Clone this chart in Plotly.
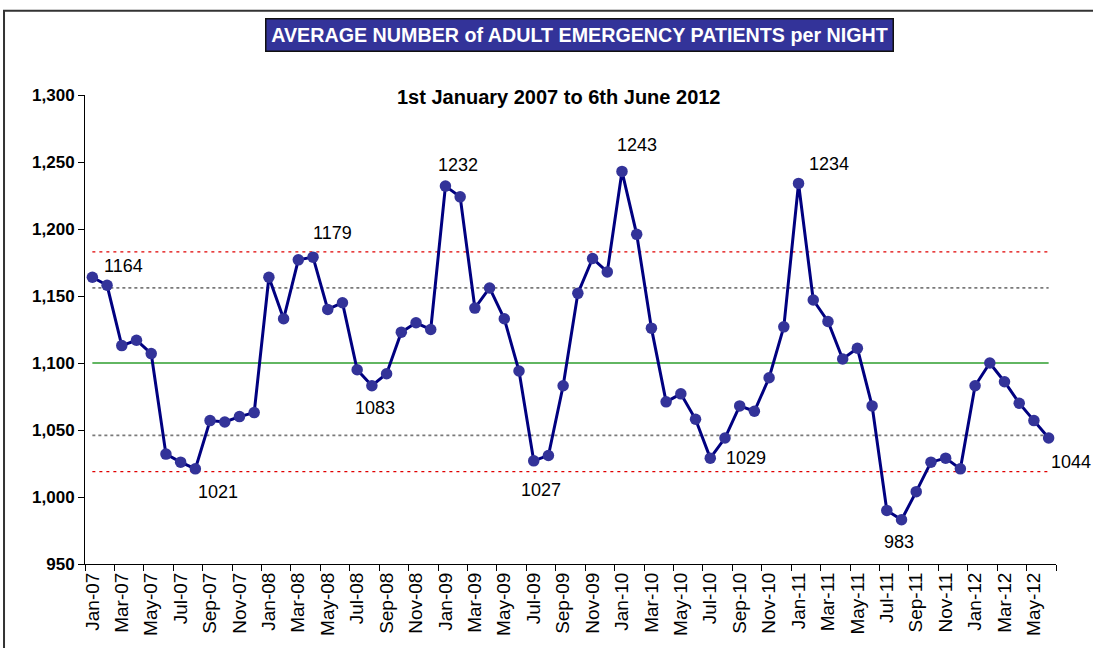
import plotly.graph_objects as go

months = ["Jan-07","Feb-07","Mar-07","Apr-07","May-07","Jun-07","Jul-07","Aug-07","Sep-07","Oct-07","Nov-07","Dec-07",
          "Jan-08","Feb-08","Mar-08","Apr-08","May-08","Jun-08","Jul-08","Aug-08","Sep-08","Oct-08","Nov-08","Dec-08",
          "Jan-09","Feb-09","Mar-09","Apr-09","May-09","Jun-09","Jul-09","Aug-09","Sep-09","Oct-09","Nov-09","Dec-09",
          "Jan-10","Feb-10","Mar-10","Apr-10","May-10","Jun-10","Jul-10","Aug-10","Sep-10","Oct-10","Nov-10","Dec-10",
          "Jan-11","Feb-11","Mar-11","Apr-11","May-11","Jun-11","Jul-11","Aug-11","Sep-11","Oct-11","Nov-11","Dec-11",
          "Jan-12","Feb-12","Mar-12","Apr-12","May-12","Jun-12"]

patients = [1164, 1158, 1113, 1117, 1107, 1032, 1026, 1021, 1057, 1056, 1060, 1063,
            1164, 1133, 1177, 1179, 1140, 1145, 1095, 1083, 1092, 1123, 1130, 1125,
            1232, 1224, 1141, 1156, 1133, 1094, 1027, 1031, 1083, 1152, 1178, 1168,
            1243, 1196, 1126, 1071, 1077, 1058, 1029, 1044, 1068, 1064, 1089, 1127,
            1234, 1147, 1131, 1103, 1111, 1068, 990, 983, 1004, 1026, 1029, 1021,
            1083, 1100, 1086, 1070, 1057, 1044]

average_level = 1100
inner_limits = [1156, 1046]
outer_limits = [1183, 1019]

labelled_idx = [0, 7, 15, 19, 24, 30, 36, 42, 48, 55, 65]
label_shift = [(31, 11), (23, -23), (19, 24), (3, -22), (13, 21), (7, -29),
               (15, 26), (36, 0), (30, 19), (-3, -22), (22, -24)]

y_ticks = [950, 1000, 1050, 1100, 1150, 1200, 1250, 1300]

FONT = "Liberation Sans"
span = [months[0], months[-1]]

fig = go.Figure()

for lv in outer_limits:
    fig.add_trace(go.Scatter(x=span, y=[lv, lv], mode="lines",
                             line=dict(color="#e00000", width=1.3, dash="3px,4px"),
                             hoverinfo="skip", showlegend=False))
for lv in inner_limits:
    fig.add_trace(go.Scatter(x=span, y=[lv, lv], mode="lines",
                             line=dict(color="#7a7a7a", width=1.8, dash="3px,3px"),
                             hoverinfo="skip", showlegend=False))
fig.add_trace(go.Scatter(x=span, y=[average_level, average_level], mode="lines",
                         line=dict(color="#2e9e2e", width=1.3),
                         hoverinfo="skip", showlegend=False))

fig.add_trace(go.Scatter(x=months, y=patients, mode="lines+markers",
                         line=dict(color="#000080", width=3),
                         marker=dict(color="#333399", size=11.5, line=dict(width=0)),
                         showlegend=False))

for i, (dx, dy) in zip(labelled_idx, label_shift):
    fig.add_annotation(x=months[i], y=patients[i], xref="x", yref="y",
                       text=str(patients[i]), showarrow=False,
                       xshift=dx, yshift=dy,
                       font=dict(family=FONT, size=18, color="black"))

# title box
fig.add_annotation(xref="paper", yref="paper", x=0.5088, y=1.1288,
                   xanchor="center", yanchor="middle", showarrow=False,
                   text="<b>AVERAGE NUMBER of ADULT EMERGENCY PATIENTS per NIGHT</b>",
                   font=dict(family=FONT, size=19.7, color="white"),
                   bgcolor="#333399", bordercolor="#111111", borderwidth=1.5,
                   borderpad=3, width=620, height=25)
# subtitle
fig.add_annotation(xref="paper", yref="paper", x=0.4882, y=0.9958,
                   xanchor="center", yanchor="middle", showarrow=False,
                   text="<b>1st January 2007 to 6th June 2012</b>",
                   font=dict(family=FONT, size=20, color="black"))

# outer chart frame
fig.add_shape(type="rect", xref="paper", yref="paper",
              x0=-0.0834, x1=1.2, y0=-0.4, y1=1.1795,
              line=dict(color="#333333", width=2), fillcolor="rgba(0,0,0,0)",
              layer="below")

fig.update_layout(
    width=1093, height=648,
    margin=dict(l=85, r=37, t=95, b=80),
    paper_bgcolor="white", plot_bgcolor="white",
    font=dict(family=FONT, color="black"),
    xaxis=dict(type="category", categoryorder="array", categoryarray=months,
               tickmode="linear", tick0=0, dtick=2, tickson="boundaries",
               ticks="outside", ticklen=6, tickcolor="black",
               showline=True, linecolor="black", linewidth=1,
               showgrid=False, zeroline=False, tickangle=-90,
               tickfont=dict(family=FONT, size=19, color="black"),
               range=[-0.5, 65.5]),
    yaxis=dict(range=[950, 1300], tickmode="array", tickvals=y_ticks,
               tickformat=",", ticks="outside", ticklen=6, tickcolor="black",
               showline=True, linecolor="black", linewidth=1,
               showgrid=False, zeroline=False,
               tickfont=dict(family=FONT, size=17, color="black", weight="bold")),
)

fig.write_html("out.html", config={"displayModeBar": False},
               post_script="document.body.style.margin='0';document.body.style.overflow='hidden';")
